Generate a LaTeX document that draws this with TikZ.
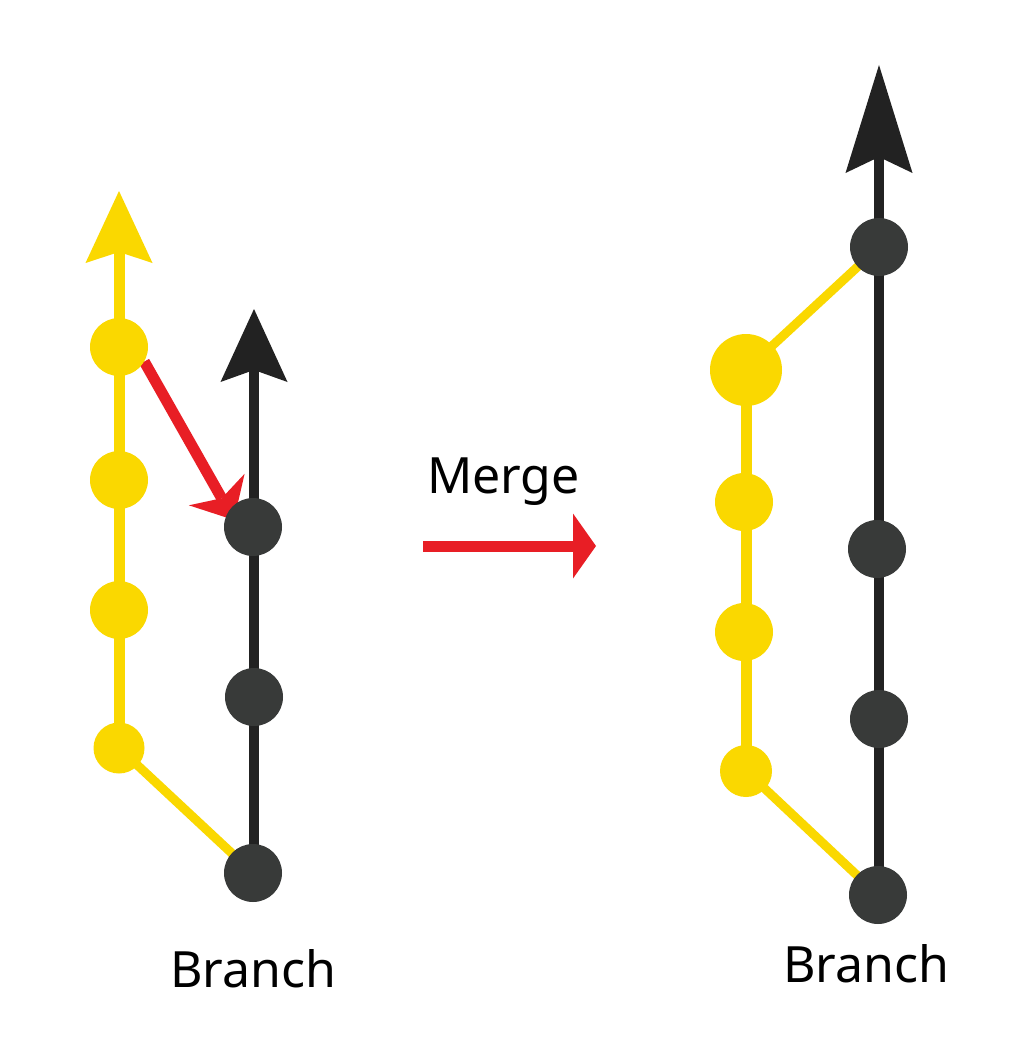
\documentclass[tikz,border=0pt]{standalone}
\usepackage{fontspec}
\setmainfont{Noto Sans}
\usetikzlibrary{arrows.meta,backgrounds}
\definecolor{ygold}{RGB}{250,216,0}
\definecolor{cdark}{RGB}{56,58,57}
\definecolor{ldark}{RGB}{34,34,34}
\definecolor{cred}{RGB}{232,30,37}
\tikzset{
  ydot/.style={circle,fill=ygold,draw=none,inner sep=0pt,minimum size=58pt},
  bdot/.style={circle,fill=cdark,draw=none,inner sep=0pt,minimum size=58pt},
  yline/.style={draw=ygold,line width=11pt},
  ydiag/.style={draw=ygold,line width=9pt},
  bline/.style={draw=ldark,line width=10pt},
  rline/.style={draw=cred,line width=11pt},
  lbl/.style={anchor=base,font=\fontsize{50}{60}\selectfont,text=black,inner sep=0pt}
}
\begin{document}
\begin{tikzpicture}[x=1pt,y=-1pt]
\useasboundingbox (0,0) rectangle (1024,1041);
% left diagram
\node[ydot] (Y1) at (119,347) {};
\node[ydot] (Y2) at (119,480) {};
\node[ydot] (Y3) at (119,610) {};
\node[ydot,minimum size=51pt] (Y4) at (119,748) {};
\node[bdot] (B1) at (253,527) {};
\node[bdot] (B2) at (254,697) {};
\node[bdot] (B3) at (253,873) {};
\coordinate (ytip) at (119,191);
\coordinate (btip) at (254,309);
\coordinate (redtip) at (234,520);
\node[lbl] (branchL) at (253,987) {Branch};
% middle
\node[lbl] (merge) at (503.5,493) {Merge};
\coordinate (mstart) at (423,546);
\coordinate (mend) at (596,546);
% right diagram
\node[bdot] (RB1) at (879,247) {};
\node[bdot] (RB2) at (877,549) {};
\node[bdot] (RB3) at (879,719) {};
\node[bdot] (RB4) at (878,895) {};
\node[ydot,minimum size=72pt] (RY1) at (746,370) {};
\node[ydot] (RY2) at (744,502) {};
\node[ydot] (RY3) at (744,632) {};
\node[ydot,minimum size=52pt] (RY4) at (746,771) {};
\coordinate (rbtip) at (879,65);
\node[lbl] (branchR) at (866,982) {Branch};
\begin{scope}[on background layer]
\fill[white] (0,0) rectangle (1024,1041);
% left
\draw[yline,-{Stealth[length=72pt,width=67pt,inset=11pt,line width=0pt]}] (Y4.center) -- (ytip);
\draw[ydiag] (Y4.center) -- (B3.center);
\draw[bline,-{Stealth[length=73pt,width=67pt,inset=12pt,line width=0pt]}] (btip |- B3.center) -- (btip);
\draw[rline,-{Stealth[length=35pt,width=64pt,inset=10pt,line width=0pt]}] (Y1.-30) -- (redtip);
% middle
\draw[draw=cred,line width=11pt,-{Triangle[length=23pt,width=65pt,line width=0pt]}] (mstart) -- (mend);
% right
\draw[bline,-{Stealth[length=108pt,width=67pt,inset=16pt,line width=0pt]}] (rbtip |- RB4.center) -- (rbtip);
\draw[yline] (RY4.center) -- (RY1.center);
\draw[ydiag] (RY1.center) -- (RB1.center);
\draw[ydiag] (RY4.center) -- (RB4.center);
\end{scope}
\end{tikzpicture}
\end{document}
